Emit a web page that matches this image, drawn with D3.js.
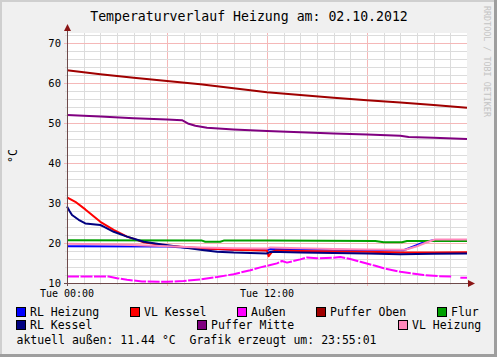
<!DOCTYPE html>
<html><head><meta charset="utf-8">
<script src="https://cdn.jsdelivr.net/npm/d3@7"></script>
<style>html,body{margin:0;padding:0;background:#f0f0f0;}svg{display:block;}</style>
</head><body>
<script>
const title = "Temperaturverlauf Heizung am: 02.10.2012";
const yLabel = "°C";
const sideText = "RRDTOOL / TOBI OETIKER";
const footer = "aktuell außen: 11.44 °C  Grafik erzeugt um: 23:55:01";
const yTicks = [10, 20, 30, 40, 50, 60, 70];
const xTickHours = [0, 12];
const xTickLabels = ["Tue 00:00", "Tue 12:00"];

const seriesNames = ["RL Heizung","VL Kessel","Außen","Puffer Oben","Flur","RL Kessel","Puffer Mitte","VL Heizung"];
const seriesColors = ["#0000ff","#ff0000","#ff00ff","#a00000","#00a000","#000080","#800080","#ff88bb"];

const rlHeizung = [[0,19.2],[6,19.1],[8,18.6],[10,18.3],[12,18.2],[12.2,18.5],[14,18.4],[16,18.3],[18,18.2],[20.2,18.2],[20.9,19.3],[21.5,20.3],[22,20.7],[24,20.7]];
const vlKessel = [[0,31.4],[0.5,30.3],[1.1,28.4],[2,25.3],[2.8,23.3],[3.6,21.6],[4.6,20.2],[5.5,19.6],[6,19.3],[8,18.7],[10,18.3],[12,18.1],[12.1,16.7],[12.3,17.8],[12.5,18.1],[14,18.0],[16,17.9],[18,17.8],[20,17.6],[22,17.6],[24,17.7]];
const aussen = [[0,11.6],[2.5,11.6],[3,11.2],[3.6,10.8],[4.5,10.4],[6,10.3],[7,10.5],[8,10.9],[9,11.5],[10,12.2],[11,13.2],[11.6,13.9],[12.2,14.5],[12.6,14.9],[12.9,15.5],[13.2,15.1],[14,15.9],[14.4,16.4],[15,16.2],[16,16.3],[16.4,16.5],[17,16.0],[17.6,15.3],[18.5,14.3],[19,13.7],[20,12.8],[21.4,12.0],[22.3,11.7],[23.1,11.6],[23.3,null],[23.6,11.3],[24,11.3]];
const pufferOben = [[0,63.2],[2,62.2],[4,61.3],[6,60.5],[8,59.7],[10,58.7],[12,57.7],[14,57.0],[16,56.3],[18,55.7],[20,55.1],[22,54.5],[24,53.8]];
const flur = [[0,20.7],[8.1,20.6],[8.3,20.3],[9.2,20.3],[9.4,20.6],[12,20.6],[18.5,20.5],[19,20.2],[20.1,20.2],[20.4,20.5],[24,20.5]];
const rlKessel = [[0,29.1],[0.15,28],[0.3,27],[0.7,25.8],[1.1,24.9],[2,24.5],[2.2,24.1],[2.8,22.8],[3.6,21.6],[4.6,20.3],[5.6,19.7],[6.6,19.1],[8,18.3],[9,17.8],[10,17.6],[12,17.4],[12.2,17.8],[14,17.6],[16,17.5],[18,17.4],[20,17.2],[22,17.3],[24,17.4]];
const pufferMitte = [[0,52.0],[2,51.6],[4,51.2],[6,50.9],[6.9,50.7],[7.3,49.8],[7.7,49.3],[8.4,48.8],[10,48.4],[12,48.0],[14,47.7],[16,47.4],[18,47.1],[20,46.8],[20.5,46.5],[22,46.3],[24,46.0]];
const vlHeizung = [[0,19.8],[3,19.6],[6,19.2],[8,18.9],[10,18.7],[12,18.6],[12.2,18.9],[14,18.7],[16,18.5],[18,18.4],[20.3,18.3],[21,19.2],[21.6,20.2],[22.1,20.9],[24,20.9]];
const seriesData = [rlHeizung, vlKessel, aussen, pufferOben, flur, rlKessel, pufferMitte, vlHeizung];

const W = 497, H = 357;
const L = 67, R = 467, T = 33, B = 283;
const mono = "'DejaVu Sans Mono', monospace";

const svg = d3.select("body").append("svg").attr("width", W).attr("height", H);
svg.append("rect").attr("width", W).attr("height", H).attr("fill", "#f0f0f0");
svg.append("rect").attr("x",0).attr("y",0).attr("width",W).attr("height",2).attr("fill","#cfcfcf");
svg.append("rect").attr("x",0).attr("y",0).attr("width",2).attr("height",H).attr("fill","#cfcfcf");
svg.append("rect").attr("x",W-3).attr("y",0).attr("width",3).attr("height",H).attr("fill","#9e9e9e");
svg.append("rect").attr("x",0).attr("y",H-3).attr("width",W).attr("height",3).attr("fill","#9e9e9e");

const x = d3.scaleLinear().domain([0, 24]).range([L, R]);
const y = d3.scaleLinear().domain([10, 72.5]).range([B, T]);

svg.append("rect").attr("x", L).attr("y", T).attr("width", R - L).attr("height", B - T).attr("fill", "#ffffff");

const g = svg.append("g").attr("shape-rendering", "crispEdges");
d3.range(1, 24).forEach(h => {
  const major = h % 6 === 0;
  g.append("line").attr("x1", Math.round(x(h)) + 0.5).attr("x2", Math.round(x(h)) + 0.5)
    .attr("y1", T).attr("y2", B + (major ? 3 : 2)).attr("stroke", major ? "#f5b8b8" : "#dcdcdc");
});
d3.range(12, 73, 2).forEach(v => {
  const major = v % 10 === 0;
  g.append("line").attr("x1", L - (major ? 3 : 2)).attr("x2", R)
    .attr("y1", Math.round(y(v)) + 0.5).attr("y2", Math.round(y(v)) + 0.5)
    .attr("stroke", major ? "#f5b8b8" : "#dcdcdc");
});

const line = d3.line().defined(d => d[1] !== null).x(d => x(d[0])).y(d => y(d[1]));
seriesData.forEach((data, i) => {
  const p = svg.append("path").datum(data).attr("d", line).attr("fill", "none")
    .attr("stroke", seriesColors[i]).attr("stroke-width", 2).attr("stroke-linejoin", "round");
  if (seriesNames[i] === "Außen") p.attr("stroke-dasharray", "12,1.5");
});

const axisColor = "#6e4a4a", arrowColor = "#8b1515";
const ax = svg.append("g").attr("shape-rendering", "crispEdges");
ax.append("line").attr("x1", L + 0.5).attr("x2", L + 0.5).attr("y1", B + 3).attr("y2", T - 4).attr("stroke", axisColor);
ax.append("line").attr("x1", L - 3).attr("x2", R + 4).attr("y1", B + 0.5).attr("y2", B + 0.5).attr("stroke", axisColor);
svg.append("path").attr("d", `M${L-3},${T-2} L${L+0.5},${T-9} L${L+4},${T-2} Z`).attr("fill", arrowColor);
svg.append("path").attr("d", `M${R+1},${B-3} L${R+8},${B+0.5} L${R+1},${B+4} Z`).attr("fill", arrowColor);

yTicks.forEach(v => {
  svg.append("text").attr("x", 61).attr("y", y(v)).attr("dy", "0.36em").attr("text-anchor", "end")
    .attr("font-family", mono).attr("font-size", 10.5).attr("fill", "#000").text(v);
});
xTickHours.forEach((h, i) => {
  svg.append("text").attr("x", x(h)).attr("y", 297).attr("text-anchor", "middle")
    .attr("font-family", mono).attr("font-size", 10).attr("fill", "#000").text(xTickLabels[i]);
});

svg.append("text").attr("x", 249).attr("y", 21).attr("text-anchor", "middle")
  .attr("font-family", mono).attr("font-size", 13.2).attr("fill", "#000").text(title);
svg.append("text").attr("transform", "translate(17,156) rotate(-90)").attr("text-anchor", "middle")
  .attr("font-family", mono).attr("font-size", 11.5).attr("fill", "#000").text(yLabel);
svg.append("text").attr("transform", "translate(484,6) rotate(90)").attr("text-anchor", "start")
  .attr("font-family", mono).attr("font-size", 8.4).attr("fill", "#c4c4c4").text(sideText);

const legendPos = [[16,315.5],[130,315.5],[237,315.5],[316,315.5],[437,315.5],[16,329],[197,329],[398,329]];
seriesNames.forEach((n, i) => {
  const [lx, ly] = legendPos[i];
  svg.append("rect").attr("x", lx + 0.5).attr("y", ly - 8.5).attr("width", 9).attr("height", 9)
    .attr("fill", seriesColors[i]).attr("stroke", "#000").attr("stroke-width", 1).attr("shape-rendering", "crispEdges");
  svg.append("text").attr("x", lx + 14).attr("y", ly).attr("font-family", mono).attr("font-size", 11.5)
    .attr("fill", "#000").text(n);
});
svg.append("text").attr("x", 16.5).attr("y", 344).attr("font-family", mono).attr("font-size", 11.5)
  .attr("fill", "#000").attr("xml:space", "preserve").style("white-space", "pre").text(footer);
</script>
</body></html>
